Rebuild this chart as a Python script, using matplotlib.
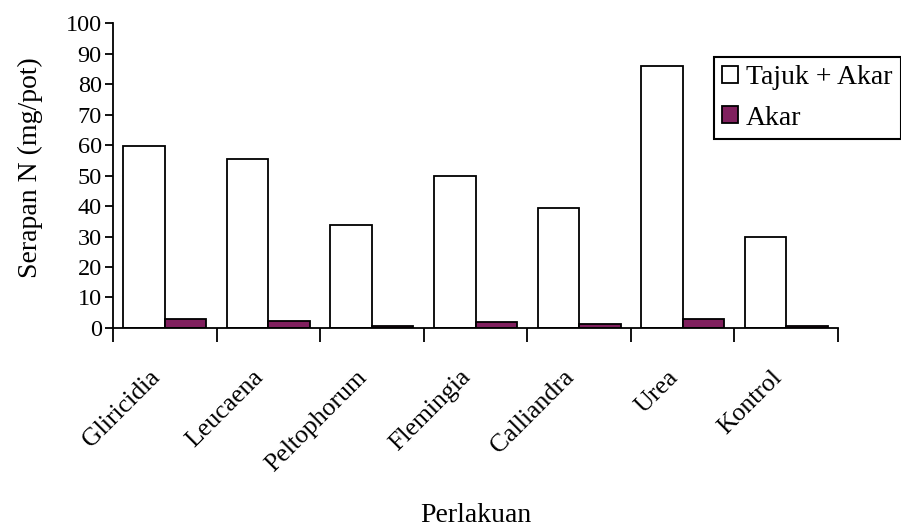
import numpy as np
import matplotlib.pyplot as plt
import matplotlib.transforms as mtransforms
from matplotlib.patches import Patch

perlakuan = ["Gliricidia", "Leucaena", "Peltophorum", "Flemingia",
             "Calliandra", "Urea", "Kontrol"]
tajuk_akar = [59.7, 55.4, 33.8, 49.8, 39.3, 85.9, 29.8]
akar = [3.0, 2.4, 0.8, 2.1, 1.2, 3.0, 0.5]


def main():
    plt.rcParams['font.family'] = ['Liberation Serif', 'DejaVu Serif']
    fig = plt.figure(figsize=(9.01, 5.28), dpi=100)
    ax = fig.add_axes([0.1254, 0.3788, 0.8047, 0.5776])

    x = np.arange(len(perlakuan))
    w = 0.4
    ax.bar(x - w / 2, tajuk_akar, w, color='white', edgecolor='black', linewidth=1.3)
    ax.bar(x + w / 2, akar, w, color='#80205e', edgecolor='black', linewidth=1.3)

    ax.set_xlim(-0.5, len(perlakuan) - 0.5)
    ax.set_ylim(0, 100)
    ax.set_yticks(range(0, 101, 10))
    ax.tick_params(axis='y', direction='out', length=6, width=1.3, labelsize=17.5, pad=2)

    # category ticks sit between groups, labels at the group centres
    ax.set_xticks(np.arange(-0.5, len(perlakuan)), minor=False)
    ax.set_xticklabels([])
    ax.set_xticks(x, minor=True)
    ax.set_xticklabels(perlakuan, minor=True, rotation=45, ha='right', va='center',
                       rotation_mode='anchor', fontsize=18.5)
    ax.tick_params(axis='x', which='major', direction='out', length=10, width=1.3)
    ax.tick_params(axis='x', which='minor', length=0, pad=33)
    shift = mtransforms.ScaledTranslation(-8 / 100, 0, fig.dpi_scale_trans)
    for lbl in ax.get_xticklabels(minor=True):
        lbl.set_transform(lbl.get_transform() + shift)

    for s in ['top', 'right']:
        ax.spines[s].set_visible(False)
    for s in ['left', 'bottom']:
        ax.spines[s].set_linewidth(1.3)

    ax.set_ylabel('Serapan N (mg/pot)', fontsize=20)
    ax.yaxis.set_label_coords(43 / 901, 1 - 167.5 / 528, transform=fig.transFigure)
    fig.text(476 / 901, 6 / 528, 'Perlakuan', ha='center', va='baseline', fontsize=20)

    handles = [Patch(facecolor='white', edgecolor='black', linewidth=1.3, label='Tajuk + Akar'),
               Patch(facecolor='#80205e', edgecolor='black', linewidth=1.3, label='Akar')]
    leg = ax.legend(handles=handles, loc='upper left', bbox_to_anchor=(714 / 901, 1 - 57 / 528),
                    bbox_transform=fig.transFigure, borderaxespad=0, fancybox=False,
                    edgecolor='black', fontsize=20, handlelength=0.55, handleheight=0.55,
                    handletextpad=0.3, labelspacing=0.55, borderpad=0.3, framealpha=1)
    leg.get_frame().set_linewidth(1.5)

    fig.savefig('out.png', dpi=100)


if __name__ == '__main__':
    main()
